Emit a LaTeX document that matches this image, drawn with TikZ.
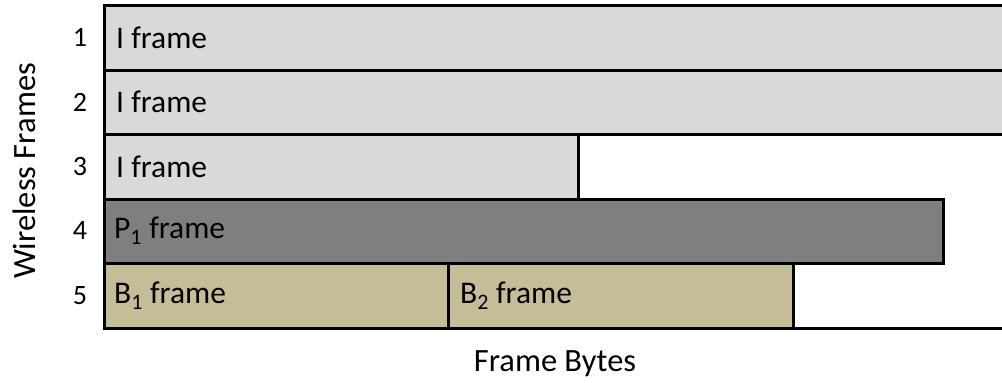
\documentclass[tikz,border=0pt]{standalone}
\usepackage{fontspec}
\setmainfont{Carlito}
\definecolor{lightbar}{HTML}{D9D9D9}
\definecolor{darkbar}{HTML}{7F7F7F}
\definecolor{tanbar}{HTML}{C4BD97}
\begin{document}
\begin{tikzpicture}[x=1pt,y=-1pt,
  bar/.style={draw=black,line width=3pt},
  lbl/.style={anchor=west,inner sep=0pt,font=\fontsize{31.5}{37}\selectfont},
  num/.style={inner sep=0pt,font=\fontsize{28}{32}\selectfont},
  axistitle/.style={inner sep=0pt,font=\fontsize{32.5}{38}\selectfont}]
\useasboundingbox (0,0) rectangle (1002,383);
% bars
\filldraw[bar,fill=lightbar] (104,5) rectangle (1012,70);
\filldraw[bar,fill=lightbar] (104,70) rectangle (1012,134);
\filldraw[bar,fill=lightbar] (104,134) rectangle (578,199);
\filldraw[bar,fill=darkbar] (104,199) rectangle (943,263);
\filldraw[bar,fill=tanbar] (104,263) rectangle (448,328);
\filldraw[bar,fill=tanbar] (448,263) rectangle (793,328);
% axes
\draw[line width=3pt] (104,134) -- (1012,134);
\draw[line width=3pt] (104,3.5) -- (104,328) -- (1012,328);
% bar labels
\node[lbl] (l1) at (116,37.5) {I frame};
\node[lbl] (l2) at (116,102) {I frame};
\node[lbl] (l3) at (116,166.5) {I frame};
\node[lbl] (l4) at (114,231) {P\textsubscript{1} frame};
\node[lbl] (l5) at (114,295.5) {B\textsubscript{1} frame};
\node[lbl] (l6) at (460,295.5) {B\textsubscript{2} frame};
% row numbers
\node[num] (n1) at (80,37.5) {1};
\node[num] (n2) at (80,102) {2};
\node[num] (n3) at (80,166.5) {3};
\node[num] (n4) at (80,231) {4};
\node[num] (n5) at (80,295.5) {5};
% axis titles
\node[axistitle,rotate=90] (yt) at (24,171) {Wireless Frames};
\node[axistitle] (xt) at (555,364) {Frame Bytes};
\end{tikzpicture}
\end{document}
